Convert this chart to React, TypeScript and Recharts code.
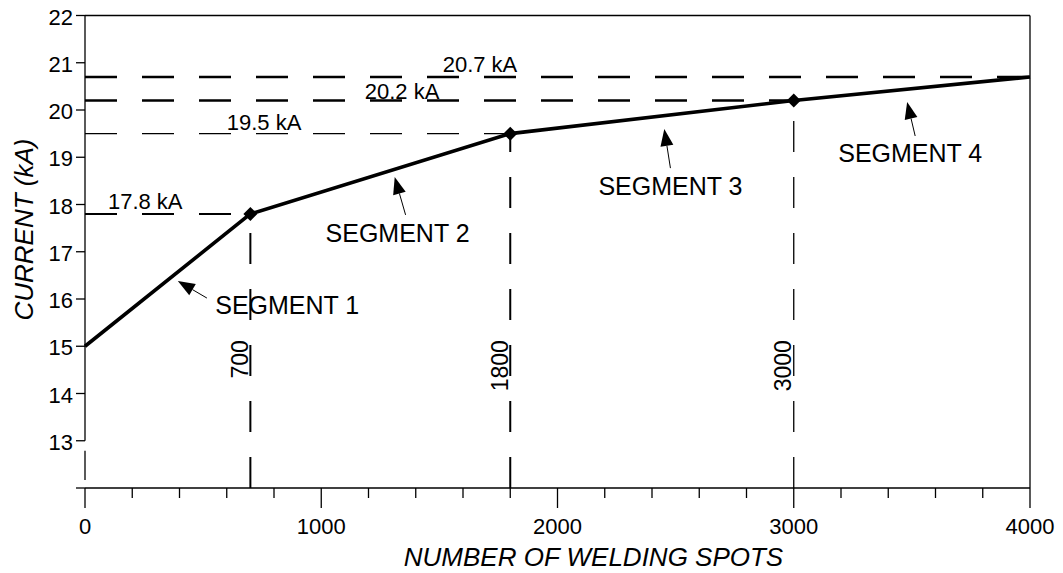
import { LineChart, Line, XAxis, YAxis, ReferenceLine, ReferenceDot, Label } from 'recharts';

const spots = [0, 700, 1800, 3000, 4000];
const currentKA = [15, 17.8, 19.5, 20.2, 20.7];
const markerSpots = [700, 1800, 3000];

const xTicks = [0, 200, 400, 600, 800, 1000, 1200, 1400, 1600, 1800, 2000, 2200, 2400, 2600, 2800, 3000, 3200, 3400, 3600, 3800, 4000];
const yTicks = [12, 13, 14, 15, 16, 17, 18, 19, 20, 21, 22];

// dashed guide levels: level, where the horizontal dash ends, label text, label anchor
const levelValues = [17.8, 19.5, 20.2, 20.7];
const levelEnds = [700, 1800, 3000, 4000];
const levelLabels = ['17.8 kA', '19.5 kA', '20.2 kA', '20.7 kA'];
const levelLabelX = [97, 600, 1184, 1514];
const levelLabelY = [17.9, 19.58, 20.23, 20.8];
const levelWidths = [2, 1.3, 2.4, 2.4];

const dropWidths = [2, 2, 1.3];
const dropLabelY = 15.13;

// segment callouts: label centre and arrow tail -> tip
const segmentNames = ['SEGMENT 1', 'SEGMENT 2', 'SEGMENT 3', 'SEGMENT 4'];
const segmentLabelX = [856, 1323, 2478, 3493];
const segmentLabelY = [15.87, 17.4, 18.39, 19.1];
const arrowTailX = [516, 1357, 2478, 3514];
const arrowTailY = [16.02, 17.78, 18.77, 19.45];
const arrowTipX = [393, 1311, 2452, 3480];
const arrowTipY = [16.38, 18.58, 19.6, 20.17];

const chartData = spots.map((s, i) => ({ spots: s, current: currentKA[i] }));

const FONT = '"Liberation Sans", Arial, Helvetica, sans-serif';

const XTick = (props: any) => {
  const { x, y, payload } = props;
  const major = payload.value % 1000 === 0;
  return (
    <g>
      <line x1={x} y1={y} x2={x} y2={y + (major ? 20 : 10)} stroke="#000" strokeWidth={1.3} />
      {major && (
        <text x={x} y={y + 46} textAnchor="middle" fontSize={22} fontFamily={FONT} fill="#000">
          {payload.value}
        </text>
      )}
    </g>
  );
};

const YTick = (props: any) => {
  const { x, y, payload } = props;
  return (
    <g>
      <line x1={x - 9} y1={y} x2={x} y2={y} stroke="#000" strokeWidth={1.3} />
      {payload.value !== 12 && (
        <text x={x - 12} y={y + 9} textAnchor="end" fontSize={22} fontFamily={FONT} fill="#000">
          {payload.value}
        </text>
      )}
    </g>
  );
};

const Diamond = (props: any) => {
  const { cx, cy, payload, index } = props;
  if (!markerSpots.includes(payload.spots)) return <g key={`d${index}`} />;
  const r = 7;
  return (
    <polygon
      key={`d${index}`}
      points={`${cx},${cy - r} ${cx + r},${cy} ${cx},${cy + r} ${cx - r},${cy}`}
      fill="#000"
    />
  );
};

const Arrow = (props: any) => {
  const { x1, y1, x2, y2 } = props;
  const dx = x2 - x1;
  const dy = y2 - y1;
  const len = Math.sqrt(dx * dx + dy * dy) || 1;
  const ux = dx / len;
  const uy = dy / len;
  const bx = x2 - ux * 17;
  const by = y2 - uy * 17;
  const nx = -uy * 6.5;
  const ny = ux * 6.5;
  return (
    <g>
      <line x1={x1} y1={y1} x2={bx} y2={by} stroke="#000" strokeWidth={1} />
      <polygon points={`${x2},${y2} ${bx + nx},${by + ny} ${bx - nx},${by - ny}`} fill="#000" />
    </g>
  );
};

const App = () => {
  return (
    <div style={{ marginTop: -8 }}>
      <LineChart
        width={1047}
        height={573}
        data={chartData}
        margin={{ top: 15.5, right: 25, left: 0, bottom: 0 }}
      >
        <XAxis
          dataKey="spots"
          type="number"
          domain={[0, 4000]}
          ticks={xTicks}
          interval={0}
          height={85}
          tickSize={0}
          tickMargin={0}
          tickLine={false}
          tick={<XTick />}
          axisLine={{ stroke: '#000', strokeWidth: 1.3 }}
        >
          <Label
            content={(p: any) => (
              <text
                x={p.viewBox.x + p.viewBox.width / 2 + 36}
                y={p.viewBox.y + 78}
                textAnchor="middle"
                fontSize={26}
                fontStyle="italic"
                fontFamily={FONT}
                fill="#000"
              >
                NUMBER OF WELDING SPOTS
              </text>
            )}
          />
        </XAxis>
        <YAxis
          type="number"
          domain={[12, 22]}
          ticks={yTicks}
          interval={0}
          width={77}
          tickSize={0}
          tickMargin={0}
          tickLine={false}
          tick={<YTick />}
          axisLine={false}
        >
          <Label
            content={(p: any) => {
              const cx = p.viewBox.x + 25;
              const cy = p.viewBox.y + 214;
              return (
                <text
                  x={cx}
                  y={cy}
                  transform={`rotate(-90 ${cx} ${cy})`}
                  textAnchor="middle"
                  fontSize={26}
                  fontStyle="italic"
                  fontFamily={FONT}
                  fill="#000"
                >
                  CURRENT (kA)
                </text>
              );
            }}
          />
        </YAxis>

        {/* frame and broken y axis */}
        <ReferenceLine y={22} stroke="#000" strokeWidth={1.3} />
        <ReferenceLine x={4000} stroke="#000" strokeWidth={1.3} />
        <ReferenceLine segment={[{ x: 0, y: 13 }, { x: 0, y: 22 }]} stroke="#000" strokeWidth={1.3} />
        <ReferenceLine segment={[{ x: 0, y: 12.17 }, { x: 0, y: 12.79 }]} stroke="#000" strokeWidth={1.3} />

        {levelValues.map((v, i) => (
          <ReferenceLine
            key={`lv${i}`}
            segment={[{ x: 0, y: v }, { x: levelEnds[i], y: v }]}
            stroke="#000"
            strokeWidth={levelWidths[i]}
            strokeDasharray="32 25"
          />
        ))}
        {markerSpots.map((s, i) => (
          <ReferenceLine
            key={`dr${i}`}
            segment={[{ x: s, y: 12 }, { x: s, y: levelValues[i] }]}
            stroke="#000"
            strokeWidth={dropWidths[i]}
            strokeDasharray="31 25"
          />
        ))}

        {levelLabels.map((t, i) => (
          <ReferenceDot
            key={`ll${i}`}
            x={levelLabelX[i]}
            y={levelLabelY[i]}
            r={1}
            shape={(p: any) => (
              <text x={p.cx} y={p.cy} fontSize={22} fontFamily={FONT} fill="#000">
                {t}
              </text>
            )}
          />
        ))}
        {markerSpots.map((s, i) => (
          <ReferenceDot
            key={`dl${i}`}
            x={s}
            y={dropLabelY}
            r={1}
            shape={(p: any) => {
              const tx = p.cx - 2.5;
              return (
                <text
                  x={tx}
                  y={p.cy}
                  transform={`rotate(-90 ${tx} ${p.cy})`}
                  textAnchor="end"
                  fontSize={23}
                  fontFamily={FONT}
                  fill="#000"
                >
                  {s}
                </text>
              );
            }}
          />
        ))}

        {segmentNames.map((n, i) => (
          <ReferenceLine
            key={`ar${i}`}
            segment={[{ x: arrowTailX[i], y: arrowTailY[i] }, { x: arrowTipX[i], y: arrowTipY[i] }]}
            shape={(p: any) => <Arrow {...p} />}
          />
        ))}
        {segmentNames.map((n, i) => (
          <ReferenceDot
            key={`sl${i}`}
            x={segmentLabelX[i]}
            y={segmentLabelY[i]}
            r={1}
            shape={(p: any) => (
              <text
                x={p.cx}
                y={p.cy + 9}
                textAnchor="middle"
                fontSize={25}
                fontFamily={FONT}
                fill="#000"
              >
                {n}
              </text>
            )}
          />
        ))}

        <Line
          type="linear"
          dataKey="current"
          stroke="#000"
          strokeWidth={3.6}
          dot={(p: any) => <Diamond {...p} />}
          activeDot={false}
          isAnimationActive={false}
        />
      </LineChart>
    </div>
  );
};

export default App;
